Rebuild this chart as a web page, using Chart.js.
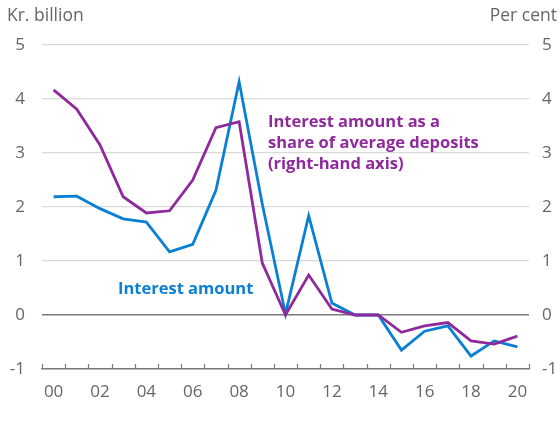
<!DOCTYPE html>
<html>
<head>
<meta charset="utf-8">
<script src="https://cdn.jsdelivr.net/npm/chart.js@4.4.1/dist/chart.umd.min.js"></script>
<style>
  html, body { margin: 0; padding: 0; background: #fff; }
  #wrap { width: 560px; height: 424px; position: relative; }
</style>
</head>
<body>
<div id="wrap"><canvas id="lineChart" width="560" height="424"></canvas></div>
<script>
const years = ['00', '01', '02', '03', '04', '05', '06', '07', '08', '09', '10',
    '11', '12', '13', '14', '15', '16', '17', '18', '19', '20'];
// Kr. billion, left axis
const interestAmount = [2.19, 2.2, 1.97, 1.78, 1.72, 1.17, 1.31, 2.31, 4.32, 2.05, 0.02,
    1.84, 0.22, 0.0, 0.0, -0.65, -0.3, -0.2, -0.76, -0.48, -0.59];
// Per cent, right axis
const shareOfDeposits = [4.17, 3.81, 3.15, 2.19, 1.89, 1.93, 2.5, 3.47, 3.58, 0.96, 0.0,
    0.74, 0.11, 0.0, 0.0, -0.32, -0.2, -0.14, -0.48, -0.54, -0.39];
const yTicks = [-1, 0, 1, 2, 3, 4, 5];

const COLORS = {
    blue: '#0a80d4',
    purple: '#8e2a9c',
    text: '#666666',
    grid: '#d9d9d9',
    zero: '#7a7a7a',
};
const FONT = 'Open Sans';

// small upward tick marks on the bottom axis + text labels
const extras = {
    id: 'extras',
    afterDraw(chart) {
        const { ctx, scales } = chart;
        const x = scales.x;
        const step = x.getPixelForValue(1) - x.getPixelForValue(0);
        const base = x.top;
        ctx.save();
        ctx.strokeStyle = COLORS.zero;
        ctx.lineWidth = 1.2;
        for (let i = 0; i <= years.length; i++) {
            const px = Math.round(x.getPixelForValue(0) - step / 2 + i * step) + 0.5;
            ctx.beginPath();
            ctx.moveTo(px, base);
            ctx.lineTo(px, base - 5);
            ctx.stroke();
        }
        ctx.textBaseline = 'middle';
        ctx.font = '17.5px "' + FONT + '"';
        ctx.fillStyle = COLORS.text;
        ctx.textAlign = 'left';
        ctx.fillText('Kr. billion', 7, 16);
        ctx.textAlign = 'right';
        ctx.fillText('Per cent', 557, 16);

        ctx.font = 'bold 16.5px "' + FONT + '"';
        ctx.textAlign = 'left';
        ctx.fillStyle = COLORS.blue;
        ctx.fillText('Interest amount', 118, 289);
        ctx.fillStyle = COLORS.purple;
        ctx.fillText('Interest amount as a', 268, 122);
        ctx.fillText('share of average deposits', 268, 143);
        ctx.fillText('(right-hand axis)', 268, 164);
        ctx.restore();
    }
};

const tickFont = { family: FONT, size: 17 };

new Chart(document.getElementById('lineChart'), {
    type: 'line',
    data: {
        labels: years,
        datasets: [
            {
                label: 'Interest amount as a share of average deposits (right-hand axis)',
                data: shareOfDeposits,
                yAxisID: 'y1',
                borderColor: COLORS.purple,
                borderWidth: 2.8,
                pointRadius: 0,
                tension: 0,
            },
            {
                label: 'Interest amount',
                data: interestAmount,
                yAxisID: 'y',
                borderColor: COLORS.blue,
                borderWidth: 2.8,
                pointRadius: 0,
                tension: 0,
            }
        ]
    },
    options: {
        responsive: false,
        animation: false,
        layout: { padding: { top: 45, left: 0, right: 0, bottom: 0 } },
        plugins: {
            legend: { display: false },
            tooltip: { enabled: false }
        },
        scales: {
            x: {
                offset: true,
                grid: { display: false },
                border: { display: true, color: COLORS.zero, width: 1.5 },
                ticks: {
                    color: COLORS.text,
                    font: tickFont,
                    autoSkip: false,
                    maxRotation: 0,
                    padding: 5,
                    callback: (v, i) => (i % 2 === 0 ? years[i] : '')
                },
                afterFit: (s) => { s.height = 55; }
            },
            y: {
                position: 'left',
                min: -1,
                max: 5,
                afterBuildTicks: (s) => { s.ticks = yTicks.map(v => ({ value: v })); },
                grid: {
                    drawTicks: false,
                    color: (c) => (c.tick && c.tick.value === 0 ? COLORS.zero : COLORS.grid),
                    lineWidth: (c) => (c.tick && c.tick.value === 0 ? 1.5 : 1.2)
                },
                border: { display: false },
                ticks: { color: COLORS.text, font: tickFont, padding: 17 },
                afterFit: (s) => { s.width = 42; }
            },
            y1: {
                position: 'right',
                min: -1,
                max: 5,
                afterBuildTicks: (s) => { s.ticks = yTicks.map(v => ({ value: v })); },
                grid: { display: false, drawTicks: false },
                border: { display: false },
                ticks: { color: COLORS.text, font: tickFont, padding: 13 },
                afterFit: (s) => { s.width = 31; }
            }
        }
    },
    plugins: [extras]
});
</script>
</body>
</html>
